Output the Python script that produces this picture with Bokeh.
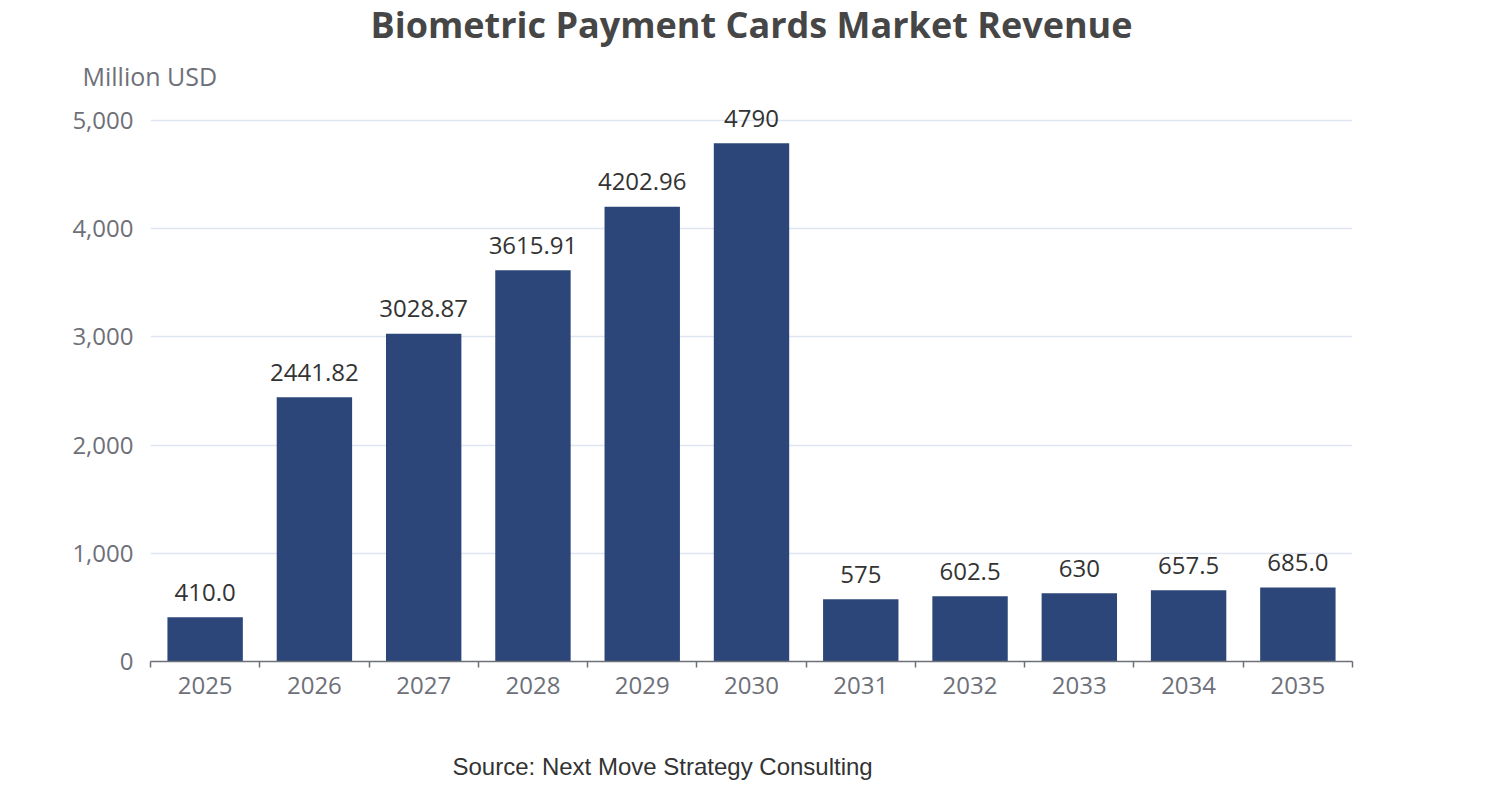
from bokeh.plotting import figure
from bokeh.models import ColumnDataSource, Range1d, FixedTicker, Title, NumeralTickFormatter
from bokeh.core.properties import value
from bokeh.embed import file_html
from bokeh.resources import INLINE

years = ["2025", "2026", "2027", "2028", "2029", "2030", "2031", "2032", "2033", "2034", "2035"]
revenue = [410.0, 2441.82, 3028.87, 3615.91, 4202.96, 4790, 575, 602.5, 630, 657.5, 685.0]
value_labels = ["410.0", "2441.82", "3028.87", "3615.91", "4202.96", "4790", "575", "602.5", "630", "657.5", "685.0"]
y_ticks = [0, 1000, 2000, 3000, 4000, 5000]

FONT = "Open Sans"
BAR = "#2c4679"
AXIS = "#6e7079"

pos = [i + 0.5 for i in range(len(years))]
src = ColumnDataSource(dict(x=pos, top=revenue, lab=value_labels))

# y range reaches a little past the top tick so the tallest value label is not clipped
p = figure(width=1500, height=798, output_backend="svg", toolbar_location=None,
           x_range=Range1d(0, len(years)), y_range=Range1d(0, 5157),
           min_border_left=150, min_border_right=148, min_border_top=0, min_border_bottom=0)
p.outline_line_color = None
p.background_fill_color = "white"
p.border_fill_color = "white"

p.vbar(x="x", top="top", width=0.69, source=src, fill_color=BAR, line_color=None)
p.text(x="x", y="top", text="lab", source=src, text_align="center", text_baseline="alphabetic",
       y_offset=-25, text_font=value(FONT), text_font_size="24px", text_color="#333333")

# x axis
xa = p.xaxis[0]
xa.ticker = FixedTicker(ticks=pos, minor_ticks=list(range(len(years) + 1)))
xa.major_label_overrides = {p_: y for p_, y in zip(pos, years)}
xa.major_tick_line_color = None
xa.major_tick_in = 0
xa.major_tick_out = 0
xa.minor_tick_in = 0
xa.minor_tick_out = 6
xa.minor_tick_line_color = AXIS
xa.minor_tick_line_width = 1.5
xa.axis_line_color = AXIS
xa.axis_line_width = 1.5
xa.major_label_standoff = 9
xa.major_label_text_font = FONT
xa.major_label_text_font_size = "24px"
xa.major_label_text_color = AXIS

# y axis
ya = p.yaxis[0]
ya.ticker = FixedTicker(ticks=y_ticks)
ya.formatter = NumeralTickFormatter(format="0,0")
ya.axis_line_color = None
ya.major_tick_line_color = None
ya.major_tick_in = 0
ya.major_tick_out = 0
ya.minor_tick_line_color = None
ya.major_label_standoff = 17
ya.major_label_text_font = FONT
ya.major_label_text_font_size = "24px"
ya.major_label_text_color = AXIS

p.xgrid.grid_line_color = None
p.ygrid.ticker = FixedTicker(ticks=y_ticks)
p.ygrid.grid_line_color = "#e0e6f1"
p.ygrid.grid_line_width = 1.5

# main title
p.title.text = "Biometric Payment Cards Market Revenue"
p.title.align = "center"
p.title.text_font = FONT
p.title.text_font_size = "36px"
p.title.text_font_style = "bold"
p.title.text_color = "#464646"
p.title.standoff = -5

# unit label above the plot
p.add_layout(Title(text="Million USD", align="left", offset=-68, text_font=FONT,
                   text_font_size="25px", text_font_style="normal", text_color=AXIS,
                   standoff=21), "above")

# source note below
p.add_layout(Title(text=" ", text_font_size="10px", standoff=22), "below")
p.add_layout(Title(text="Source: Next Move Strategy Consulting", align="left", offset=302,
                   text_font="Liberation Sans", text_font_size="24px", text_font_style="normal",
                   text_color="#333333", standoff=38), "below")

open("out.html", "w").write(file_html(p, INLINE))
